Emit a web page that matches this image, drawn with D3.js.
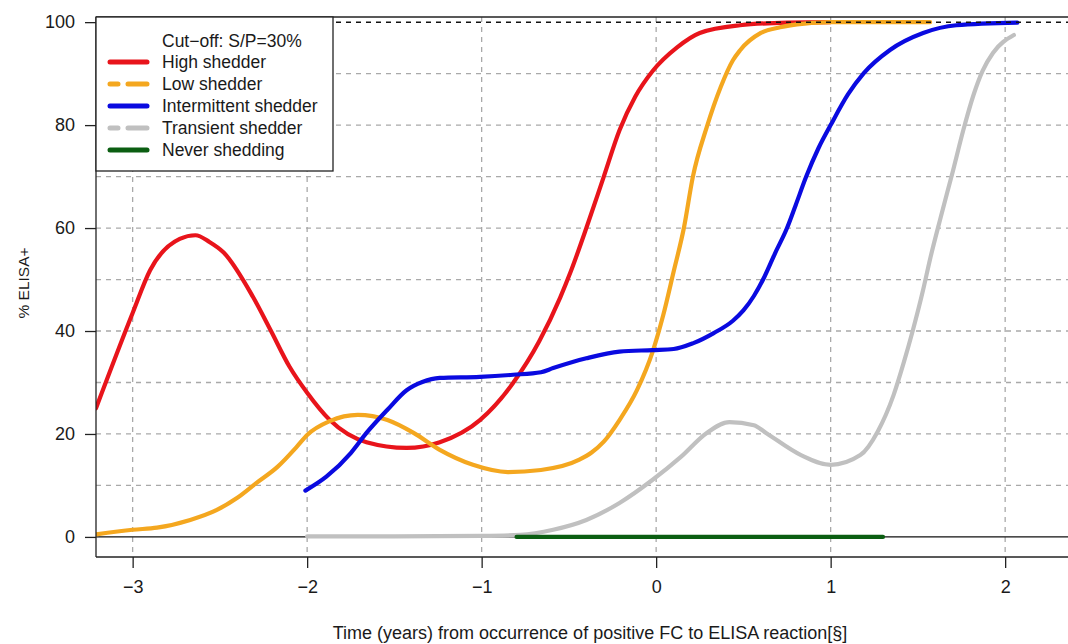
<!DOCTYPE html>
<html>
<head>
<meta charset="utf-8">
<script src="https://cdn.jsdelivr.net/npm/d3@7"></script>
<style>
  html, body { margin: 0; padding: 0; background: #fff; }
  svg { display: block; }
  text { font-family: "Liberation Sans", Arial, Helvetica, sans-serif; fill: #1a1a1a; }
</style>
</head>
<body>
<svg id="chart" width="1068" height="644"></svg>
<script>
// ---------- data ----------
const xTicks = [-3, -2, -1, 0, 1, 2];
const yTicks = [0, 20, 40, 60, 80, 100];
const xGrid = [-3, -2, -1, 0, 1, 2];
const yGrid = [10, 20, 30, 40, 50, 60, 70, 80, 90];

const seriesNames = ["High shedder", "Low shedder", "Intermittent shedder", "Transient shedder", "Never shedding"];
const legendTitle = "Cut\u2212off: S/P=30%";

const highX = [-3.21, -3.0, -2.90, -2.73, -2.64, -2.56, -2.48, -2.31, -2.21, -2.10, -2.0, -1.87, -1.66, -1.43, -1.24, -1.01, -0.82, -0.67, -0.55, -0.49, -0.40, -0.30, -0.21, -0.12, -0.02, 0.12, 0.25, 0.48, 0.75, 1.0];
const highY = [25, 43.5, 51.8, 57.9, 58.6, 57.3, 55.3, 46.6, 40.2, 33.0, 28.0, 22.7, 18.4, 17.3, 18.4, 22.7, 29.9, 38.0, 46.5, 51.5, 60.0, 70.0, 79.0, 85.5, 90.5, 95.1, 97.9, 99.4, 99.9, 100];

const lowX = [-3.21, -3.0, -2.86, -2.67, -2.52, -2.40, -2.29, -2.17, -2.06, -2.0, -1.87, -1.71, -1.54, -1.39, -1.24, -1.05, -0.85, -0.66, -0.44, -0.37, -0.30, -0.21, -0.11, -0.02, 0.04, 0.10, 0.16, 0.21, 0.29, 0.37, 0.44, 0.48, 0.60, 0.71, 0.85, 1.0, 1.57];
const lowY = [0.5, 1.4, 1.8, 3.3, 5.2, 7.6, 10.5, 13.6, 17.5, 19.8, 22.5, 23.7, 22.7, 20.2, 16.9, 14.0, 12.6, 13.0, 15.0, 16.4, 18.5, 22.7, 28.5, 36.0, 43.0, 51.5, 60.2, 69.9, 79.6, 87.4, 92.6, 94.5, 97.9, 99.0, 99.7, 100, 100];

const interX = [-2.01, -1.89, -1.75, -1.66, -1.54, -1.43, -1.34, -1.24, -1.01, -0.82, -0.66, -0.59, -0.40, -0.21, -0.02, 0.10, 0.21, 0.33, 0.44, 0.50, 0.56, 0.62, 0.68, 0.75, 0.80, 0.86, 0.93, 1.0, 1.10, 1.19, 1.34, 1.53, 1.72, 2.07];
const interY = [9.0, 11.7, 16.3, 20.2, 24.7, 28.5, 30.1, 30.9, 31.1, 31.5, 32.0, 32.8, 34.7, 36.0, 36.3, 36.5, 37.6, 39.6, 42.0, 44.0, 46.8, 50.5, 55.0, 60.0, 64.5, 70.0, 75.5, 80.0, 86.0, 90.1, 94.6, 97.9, 99.4, 99.9];

const transX = [-2.0, -1.5, -1.0, -0.78, -0.59, -0.40, -0.21, -0.02, 0.14, 0.29, 0.42, 0.56, 0.63, 0.83, 1.0, 1.17, 1.27, 1.36, 1.42, 1.47, 1.53, 1.57, 1.63, 1.70, 1.76, 1.82, 1.87, 1.93, 2.05];
const transY = [0.1, 0.1, 0.2, 0.4, 1.4, 3.3, 6.6, 11.1, 15.5, 20.2, 22.3, 21.7, 20.2, 15.9, 14.0, 15.9, 20.5, 27.5, 34.0, 40.0, 48.0, 54.0, 62.0, 71.0, 79.0, 86.0, 90.5, 94.0, 97.5];

const neverX = [-0.8, 1.3];
const neverY = [0, 0];

// ---------- layout ----------
const svg = d3.select("#chart");
const L = 96, R = 1076, T = 17, B = 557;

const x = d3.scaleLinear().domain([-3.21, 2.406]).range([L, R]);
const y = d3.scaleLinear().domain([-3.9, 101]).range([B, T]);

const colors = ["#e8141b", "#f4a71f", "#0a0ae0", "#c0c0c0", "#0b5e12"];
const dashes = [null, "19 10", null, "19 10", null];

svg.append("defs").append("clipPath").attr("id", "clip")
  .append("rect").attr("x", L).attr("y", T).attr("width", R - L).attr("height", B - T);

// grid
const g = svg.append("g").attr("clip-path", "url(#clip)");
g.selectAll(".vg").data(xGrid).enter().append("line")
  .attr("x1", d => x(d)).attr("x2", d => x(d)).attr("y1", T).attr("y2", B)
  .attr("stroke", "#a9a9a9").attr("stroke-width", 1.3).attr("stroke-dasharray", "5 5");
g.selectAll(".hg").data(yGrid).enter().append("line")
  .attr("x1", L).attr("x2", R).attr("y1", d => y(d)).attr("y2", d => y(d))
  .attr("stroke", "#a9a9a9").attr("stroke-width", 1.3).attr("stroke-dasharray", "5 5");

// zero line
g.append("line").attr("x1", L).attr("x2", R).attr("y1", y(0)).attr("y2", y(0))
  .attr("stroke", "#111").attr("stroke-width", 1.2);

// curves
const line = d3.line().x(d => x(d[0])).y(d => y(d[1])).curve(d3.curveMonotoneX);
const seriesData = [
  d3.zip(highX, highY),
  d3.zip(lowX, lowY),
  d3.zip(interX, interY),
  d3.zip(transX, transY),
  d3.zip(neverX, neverY)
];
seriesData.forEach((pts, i) => {
  g.append("path").datum(pts)
    .attr("d", line)
    .attr("fill", "none")
    .attr("stroke", colors[i])
    .attr("stroke-width", 4.2)
    .attr("stroke-linejoin", "round")
    .attr("stroke-linecap", "round");
});

// 100 line (black dashed)
g.append("line").attr("x1", L).attr("x2", R).attr("y1", y(100)).attr("y2", y(100))
  .attr("stroke", "#111").attr("stroke-width", 1.5).attr("stroke-dasharray", "5 5");

// box (left, bottom, top)
svg.append("line").attr("x1", L).attr("x2", L).attr("y1", T).attr("y2", B).attr("stroke", "#222").attr("stroke-width", 1.3);
svg.append("line").attr("x1", L).attr("x2", R).attr("y1", B).attr("y2", B).attr("stroke", "#222").attr("stroke-width", 1.3);
svg.append("line").attr("x1", L).attr("x2", R).attr("y1", T).attr("y2", T).attr("stroke", "#222").attr("stroke-width", 1.3);

// axes
const xAxis = d3.axisBottom(x).tickValues(xTicks).tickSize(11).tickPadding(12)
  .tickFormat(d => d < 0 ? "\u2212" + Math.abs(d) : String(d));
const xg = svg.append("g").attr("transform", `translate(0,${B})`).call(xAxis);
xg.select(".domain").remove();
xg.selectAll(".tick line").attr("stroke", "#222").attr("stroke-width", 1.3);
xg.selectAll(".tick text").attr("font-size", 18).attr("font-family", "Liberation Sans, Arial, sans-serif").attr("fill", "#1a1a1a");

const yAxis = d3.axisLeft(y).tickValues(yTicks).tickSize(11).tickPadding(10);
const yg = svg.append("g").attr("transform", `translate(${L},0)`).call(yAxis);
yg.select(".domain").remove();
yg.selectAll(".tick line").attr("stroke", "#222").attr("stroke-width", 1.3);
yg.selectAll(".tick text").attr("font-size", 18).attr("font-family", "Liberation Sans, Arial, sans-serif").attr("fill", "#1a1a1a");

// axis titles
svg.append("text").attr("x", 590).attr("y", 639).attr("text-anchor", "middle")
  .attr("font-size", 18).text("Time (years) from occurrence of positive FC to ELISA reaction[\u00a7]");
svg.append("text").attr("transform", "translate(29,283) rotate(-90)").attr("text-anchor", "middle")
  .attr("font-size", 15.5).text("% ELISA+");

// legend
const lg = svg.append("g");
lg.append("rect").attr("x", L).attr("y", T).attr("width", 237).attr("height", 154)
  .attr("fill", "#fff").attr("stroke", "#222").attr("stroke-width", 1.3);
lg.append("text").attr("x", 162).attr("y", 47).attr("font-size", 17.5).text(legendTitle);
seriesNames.forEach((name, i) => {
  const cy = 62 + i * 22;
  lg.append("line").attr("x1", 110).attr("x2", 147).attr("y1", cy).attr("y2", cy)
    .attr("stroke", colors[i]).attr("stroke-width", 5)
    .attr("stroke-linecap", "round")
    .attr("stroke-dasharray", dashes[i]).attr("stroke-dashoffset", dashes[i] ? 11 : null);
  lg.append("text").attr("x", 162).attr("y", cy + 6).attr("font-size", 17.5).text(name);
});
</script>
</body>
</html>
